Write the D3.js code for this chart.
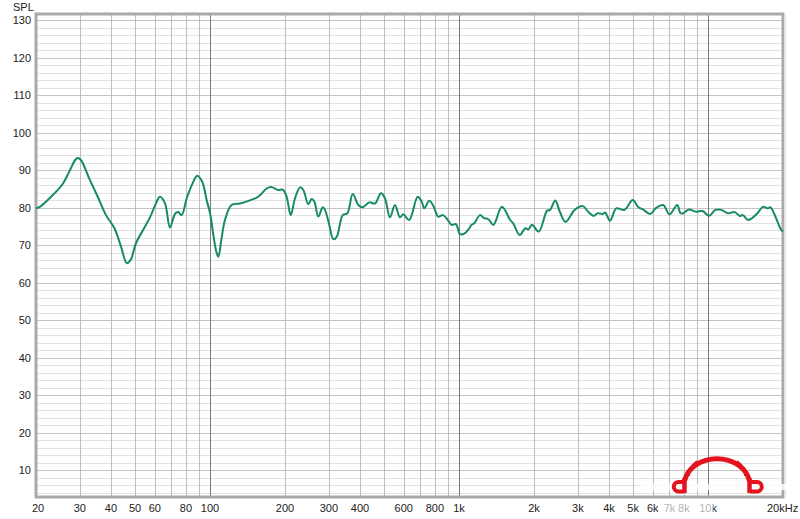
<!DOCTYPE html>
<html><head><meta charset="utf-8">
<script src="https://cdn.jsdelivr.net/npm/d3@7"></script>
<style>body{margin:0;background:#fff}svg{display:block}text{font-family:"Liberation Sans",Arial,sans-serif;font-size:11px;fill:#222}</style>
</head><body><svg id="c" width="800" height="519"></svg>
<script>
const freqs = [20,20.6,23,25.6,27.2,28.75,29.4,30.3,32.7,35.4,38.2,41.3,43.9,46.3,48.1,50.4,53.9,57.4,60,62.9,65.9,69,72.3,74.5,76.9,80.6,85,88.8,93,97,100,103,106,108,111,114.8,122,132,142.6,156,168.8,176,188,196,203,210.9,219.4,229.8,236.9,248.1,256,262.3,272.2,283.5,289.5,300,312.6,322.6,341,356,374,394,410,436,459.8,485.8,504,528,553,579,597,631,682,708,725,759,788,825,860,892,934,972,1009,1057,1100,1122,1150,1214,1260,1310,1374,1486,1605,1650,1752,1848,1900,1964,2090,2258,2320,2434,2540,2680,2914,3140,3300,3474,3600,3780,3860,4040,4280,4620,4980,5250,5480,5860,6150,6600,7000,7520,7750,7950,8380,8950,9500,10100,10700,11300,12000,12800,13400,13800,14500,15800,16600,17400,17800,19700,20000];
const spl = [80.0,80.2,83.0,86.4,89.7,92.8,93.3,92.8,87.9,83.0,78.1,74.6,69.7,65.3,66.3,70.6,74.2,77.5,80.5,83.0,81.3,74.8,78.4,78.9,78.1,82.6,86.5,88.6,87.0,82,78.6,73,68.3,67.0,71.5,76.8,80.8,81.2,81.9,83.0,85.2,85.6,84.8,84.9,83.0,78.1,82.6,85.5,84.8,81.0,82.4,81.7,77.7,80.2,79.5,76.0,71.7,72.3,78.1,78.6,83.7,80.8,80.2,81.5,81.2,83.9,82.6,77.5,80.8,77.5,78.3,76.8,83.0,81.7,79.9,81.9,80.6,77.7,78.1,77.2,75.5,75.7,73.0,73.3,74.6,75.5,75.9,78.1,77.3,77.0,75.5,80.3,76.8,75.9,72.8,74.6,74.3,75.5,73.7,79.3,79.5,82.0,79.0,76.3,79.5,80.5,79.0,77.9,78.6,78.4,78.8,76.6,79.9,79.5,82.1,80.2,79.6,78.4,79.9,80.8,78.3,80.8,78.6,78.6,79.6,79.0,79.2,77.9,79.5,79.5,78.6,78.9,77.9,78.1,76.8,78.6,80.3,79.9,80.2,74.1,73.8];
const yTicks = [10,20,30,40,50,60,70,80,90,100,110,120,130];
const xTickVals = [20,30,40,50,60,80,100,200,300,400,600,800,1000,2000,3000,4000,5000,6000,7000,8000,10000];
const xTickLabels = ["20","30","40","50","60","80","100","200","300","400","600","800","1k","2k","3k","4k","5k","6k","7k","8k","10k"];

const L=36,R=783,T=14,B=497;
const svg=d3.select("#c");
const x=d3.scaleLog().domain([20,20000]).range([L,R]);
const y=d3.scaleLinear().domain([2.93,131.73]).range([B,T]);

const g=svg.append("g");
for(let v=4; v<=130; v+=2){
  const major = v%10===0;
  g.append("line").attr("x1",L).attr("x2",R).attr("y1",Math.round(y(v))+0.5).attr("y2",Math.round(y(v))+0.5)
   .attr("stroke",major?"#c4c4c4":"#e2e2e2").attr("stroke-width",1);
}
const vlines=[];
[10,100,1000,10000].forEach(d=>{for(let m=1;m<=9;m++){const f=d*m; if(f>20&&f<20000) vlines.push(f);}});
vlines.forEach(f=>{
  const major=[100,1000,10000].includes(f);
  g.append("line").attr("y1",T).attr("y2",B).attr("x1",Math.round(x(f))+0.5).attr("x2",Math.round(x(f))+0.5)
   .attr("stroke",major?"#7a7a7a":"#bdbdbd").attr("stroke-width",1);
});
svg.append("rect").attr("x",L).attr("y",T).attr("width",R-L).attr("height",B-T)
  .attr("fill","none").attr("stroke","#a9a9a9").attr("stroke-width",3);
svg.append("line").attr("x1",R+2).attr("x2",R+2).attr("y1",T).attr("y2",B).attr("stroke","#e4e4e4").attr("stroke-width",2);

svg.selectAll(".yl").data(yTicks).enter().append("text")
  .attr("x",31).attr("y",d=>y(d)+4).attr("text-anchor","end").text(d=>d);
svg.append("text").attr("x",13).attr("y",11).text("SPL");
svg.selectAll(".xl").data(xTickVals).enter().append("text")
  .attr("x",d=>x(d)+(d===20?2:0)).attr("y",512).attr("text-anchor","middle").text((d,i)=>xTickLabels[i]);
svg.append("text").attr("x",767).attr("y",512).text("20kHz");

const line=d3.line().x(d=>x(d[0])).y(d=>y(d[1])).curve(d3.curveCatmullRom.alpha(0.5));
svg.append("path").datum(freqs.map((f,i)=>[f,spl[i]])).attr("d",line)
  .attr("fill","none").attr("stroke","#158a68").attr("stroke-width",2);

const wm=svg.append("g");
wm.append("rect").attr("x",640).attr("y",484).attr("width",150).attr("height",6).attr("fill","#fff").attr("opacity",0.8);
wm.append("rect").attr("x",658).attr("y",502).attr("width",55).attr("height",13).attr("fill","#fff").attr("opacity",0.65);
const red="#e3141e";
wm.append("path").attr("d","M684.5,481 A33,27 0 0 1 749.5,481").attr("fill","none").attr("stroke",red).attr("stroke-width",5);
wm.append("path").attr("d","M689,476 A26,20 0 0 1 697,461").attr("fill","none").attr("stroke",red).attr("stroke-width",1.8);
wm.append("path").attr("d","M745,476 A26,20 0 0 0 737,461").attr("fill","none").attr("stroke",red).attr("stroke-width",1.8);
wm.append("path").attr("d","M684.5,478 L684.5,493").attr("stroke",red).attr("stroke-width",4.5);
wm.append("path").attr("d","M684,482 L678.5,482 A4.75,4.75 0 0 0 678.5,491.5 L684,491.5").attr("fill","none").attr("stroke",red).attr("stroke-width",4);
wm.append("path").attr("d","M749.5,478 L749.5,493").attr("stroke",red).attr("stroke-width",4.5);
wm.append("path").attr("d","M750,482 L757,482 A4.75,4.75 0 0 1 757,491.5 L750,491.5").attr("fill","none").attr("stroke",red).attr("stroke-width",4);
</script></body></html>
